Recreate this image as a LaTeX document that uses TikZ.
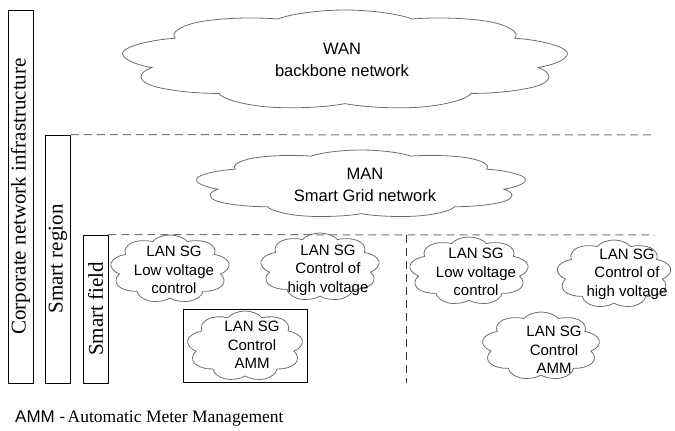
\documentclass[tikz,border=0pt]{standalone}
\usepackage{fontspec}
\setmainfont{Liberation Serif}
\newfontfamily\arialfont{Liberation Sans}
\usetikzlibrary{shapes.symbols}
\definecolor{cloudgray}{RGB}{110,110,110}
\definecolor{dashgray}{RGB}{120,120,120}
\begin{document}
\begin{tikzpicture}[x=1pt,y=-1pt,
  lbox/.style={draw=black, line width=0.8pt, inner sep=0pt},
  vlabel/.style={rotate=90, font=\fontsize{21}{24}\selectfont, inner sep=0pt},
  cl/.style={cloud, cloud ignores aspect, draw=cloudgray, line width=0.8pt, inner sep=0pt, transform shape},
  lan/.style={cl, cloud puffs=9, cloud puff arc=135, minimum width=68pt, minimum height=68pt},
  lantext/.style={font=\arialfont\fontsize{15}{18.5}\selectfont, align=center, inner sep=0pt},
  bigtext/.style={font=\arialfont\fontsize{16.5}{22}\selectfont, align=center, inner sep=0pt},
  hdash/.style={draw=dashgray, line width=1pt, dash pattern=on 8pt off 5pt},
  vdash/.style={draw=black!80, line width=1pt, dash pattern=on 8pt off 5pt},
]
\useasboundingbox (0,0) rectangle (675,431);

% side boxes
\node[lbox, minimum width=25pt, minimum height=373pt] (corp) at (20.5,196.5) {};
\node[vlabel] (corpt) at (corp.center) {Corporate network infrastructure};
\node[lbox, minimum width=25pt, minimum height=248pt] (region) at (58,259) {};
\node[vlabel] (regiont) at (region.center) {Smart region};
\node[lbox, minimum width=25pt, minimum height=148pt] (field) at (95.5,309) {};
\node[vlabel] (fieldt) at (field.center) {Smart field};

% dashed separators
\coordinate (d1) at (655,135);
\draw[hdash] (region.north east) -- (d1);
\coordinate (d2) at (655,235);
\draw[hdash] (field.north east) -- (d2);
\coordinate (v1) at (406,235);
\coordinate (v2) at (406,383);
\draw[vdash] (v1) -- (v2);

% WAN / MAN
\begin{scope}[shift={(345,60)}, xscale=4.5]
\node[cl, cloud puffs=9, cloud puff arc=125, minimum width=100pt, minimum height=100pt] (wan) at (0,0) {};
\end{scope}
\node[bigtext] (want) at (342,60) {WAN\\backbone network};
\begin{scope}[shift={(361,184)}, xscale=4.9]
\node[cl, cloud puffs=9, cloud puff arc=125, minimum width=68pt, minimum height=68pt] (man) at (0,0) {};
\end{scope}
\node[bigtext] (mant) at (365,185) {MAN\\Smart Grid network};

% LAN clouds
\begin{scope}[shift={(170,269)}, xscale=1.76]
\node[lan] (c1) at (0,0) {};
\end{scope}
\node[lantext] (c1t) at (174,270) {LAN SG\\Low voltage\\control};
\begin{scope}[shift={(320,267)}, xscale=1.76]
\node[lan] (c2) at (0,0) {};
\end{scope}
\node[lantext] (c2t) at (328,270) {LAN SG\\Control of\\high voltage};
\node[lbox, minimum width=124pt, minimum height=73pt] (ammbox) at (245,345.5) {};
\begin{scope}[shift={(245,346)}, xscale=1.66]
\node[lan, minimum width=70pt, minimum height=70pt] (c3) at (0,0) {};
\end{scope}
\node[lantext] (c3t) at (252,345) {LAN SG\\Control\\AMM};
\begin{scope}[shift={(469,271)}, xscale=1.76]
\node[lan] (c4) at (0,0) {};
\end{scope}
\node[lantext] (c4t) at (476,272) {LAN SG\\Low voltage\\control};
\begin{scope}[shift={(614,274)}, xscale=1.69]
\node[lan] (c5) at (0,0) {};
\end{scope}
\node[lantext] (c5t) at (627,274) {LAN SG\\Control of\\high voltage};
\begin{scope}[shift={(541,346)}, xscale=1.74]
\node[lan] (c6) at (0,0) {};
\end{scope}
\node[lantext] (c6t) at (554,350) {LAN SG\\Control\\AMM};

% footnote
\node[anchor=base west, inner sep=0pt] (foot) at (15,422)
  {{\arialfont\fontsize{17}{20}\selectfont AMM -} \fontsize{17.5}{20}\selectfont Automatic Meter Management};
\end{tikzpicture}
\end{document}
